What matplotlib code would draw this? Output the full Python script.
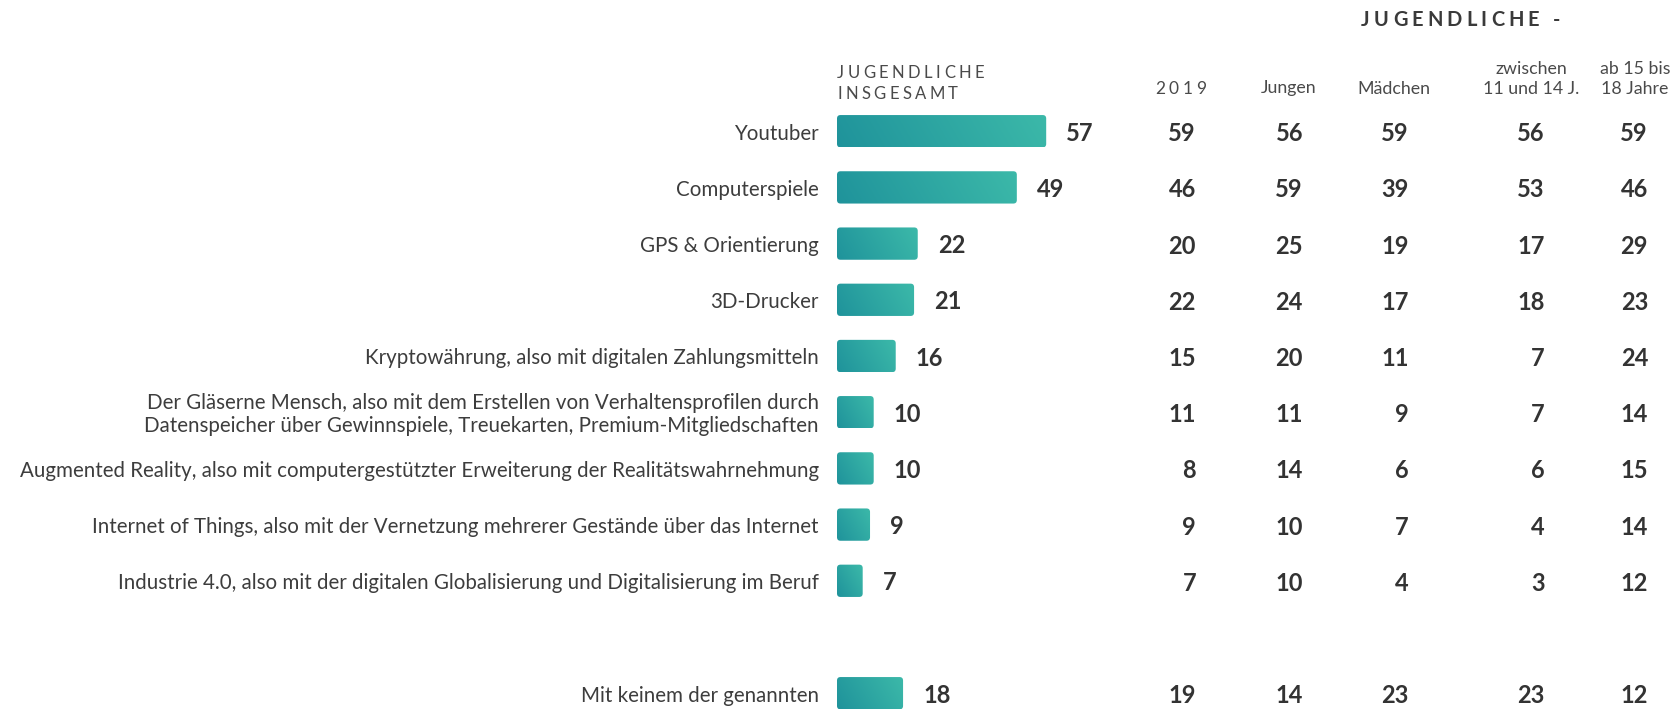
import numpy as np
import matplotlib
matplotlib.use("Agg")
import matplotlib.pyplot as plt
import matplotlib.colors as mcolors
import matplotlib.transforms as mtransforms
from matplotlib.patches import FancyBboxPatch
from matplotlib import font_manager
from matplotlib.ft2font import FT2Font

plt.rcParams['font.family'] = ['Lato', 'DejaVu Sans']

categories = [
    "Youtuber",
    "Computerspiele",
    "GPS & Orientierung",
    "3D-Drucker",
    "Kryptowährung, also mit digitalen Zahlungsmitteln",
    "Der Gläserne Mensch, also mit dem Erstellen von Verhaltensprofilen durch\n"
    "Datenspeicher über Gewinnspiele, Treuekarten, Premium-Mitgliedschaften",
    "Augmented Reality, also mit computergestützter Erweiterung der Realitätswahrnehmung",
    "Internet of Things, also mit der Vernetzung mehrerer Gestände über das Internet",
    "Industrie 4.0, also mit der digitalen Globalisierung und Digitalisierung im Beruf",
    "Mit keinem der genannten",
]
insgesamt = [57, 49, 22, 21, 16, 10, 10, 9, 7, 18]
jahr_2019 = [59, 46, 20, 22, 15, 11, 8, 9, 7, 19]
jungen = [56, 59, 25, 24, 20, 11, 14, 10, 10, 14]
maedchen = [59, 39, 19, 17, 11, 9, 6, 7, 4, 23]
alter_11_14 = [56, 53, 17, 18, 7, 7, 6, 4, 3, 23]
alter_15_18 = [59, 46, 29, 23, 24, 14, 15, 14, 12, 12]

col_values = [jahr_2019, jungen, maedchen, alter_11_14, alter_15_18]
col_right_px = [1196, 1303, 1408.5, 1544.5, 1648]

W, H, DPI = 1676, 709, 100
px_unit = 3.67      # pixel pro Prozentpunkt
x0_px = 837         # linke Kante der Balken
row0_px = 131.2     # Mitte der ersten Zeile
row_px = 56.2       # Zeilenabstand
bar_h_px = 32.3
bar_h = bar_h_px / row_px

txt_col = "#3d3d3d"
num_col = "#333333"
head_col = "#4a4a4a"
c0 = np.array(mcolors.to_rgb("#1f939b"))
c1 = np.array(mcolors.to_rgb("#3cb9a9"))
angle = np.deg2rad(60)  # wie css linear-gradient(60deg, ...)

fig = plt.figure(figsize=(W / DPI, H / DPI), dpi=DPI, facecolor="white")
ax = fig.add_axes([0, 0, 1, 1])
ax.axis("off")

n = len(categories)
ypos = np.arange(n) + (np.arange(n) == n - 1) * 1.0  # Leerzeile vor "Mit keinem"

pt = 72 / DPI  # pixel -> points

# balken mit farbverlauf
rad_x = 3.5 / px_unit
rad_y = 3.5 / row_px
for y, v in zip(ypos, insgesamt):
    w_px = v * px_unit
    gx = np.linspace(-w_px / 2, w_px / 2, max(int(w_px), 2))[None, :]
    gy = np.linspace(bar_h_px / 2, -bar_h_px / 2, 33)[:, None]
    L = w_px * np.sin(angle) + bar_h_px * np.cos(angle)
    t = 0.5 + (gx * np.sin(angle) + gy * np.cos(angle)) / L
    img = c0 + (c1 - c0) * t[..., None]
    patch = FancyBboxPatch((0, y - bar_h / 2), v, bar_h,
                           boxstyle=f"round,pad=0,rounding_size={rad_x}",
                           mutation_aspect=rad_y / rad_x,
                           facecolor="none", edgecolor="none")
    ax.add_patch(patch)
    im = ax.imshow(img, extent=(0, v, y + bar_h / 2, y - bar_h / 2), origin="upper",
                   aspect="auto", interpolation="bilinear", zorder=2)
    im.set_clip_path(patch)

ax.set_xlim(-x0_px / px_unit, (W - x0_px) / px_unit)
ax.set_ylim((H - row0_px) / row_px, -row0_px / row_px)

# kategorien
cat_fs = 14.8
cap = 0.7165
for y, lab in zip(ypos, categories):
    lines = lab.split("\n")
    k = len(lines)
    for j, line in enumerate(lines):
        dy = (j - (k - 1) / 2) * 23.5
        ax.annotate(line, xy=(0, y), xycoords="data",
                    xytext=(-18 * pt, -(dy + 1.5) * pt - 14 * cap / 2),
                    textcoords="offset points", ha="right", va="baseline",
                    fontsize=cat_fs, color=txt_col)

# werte an den balken
num_fs = 17
for y, v in zip(ypos, insgesamt):
    ax.annotate(str(v), xy=(v, y), xycoords="data",
                xytext=(20 * pt, -1.2 * pt - num_fs * cap / 2), textcoords="offset points",
                ha="left", va="baseline", fontsize=num_fs, fontweight="bold", color=num_col)

# spalten
blend = mtransforms.blended_transform_factory(fig.transFigure, ax.transData)
for vals, xr in zip(col_values, col_right_px):
    for y, v in zip(ypos, vals):
        ax.annotate(str(v), xy=(xr / W, y), xycoords=blend,
                    xytext=(0, -1.5 * pt - num_fs * cap / 2), textcoords="offset points",
                    ha="right", va="baseline", fontsize=num_fs, fontweight="bold", color=num_col)


def advances(s, size, weight):
    fp = font_manager.FontProperties(family="Lato", size=size, weight=weight)
    font = FT2Font(font_manager.findfont(fp))
    font.set_size(size, DPI)
    return [font.load_char(ord(c)).linearHoriAdvance / 65536 for c in s]


def spaced(x, y, s, size, weight="normal", spacing=None, width=None, ha="left", color=head_col):
    adv = advances(s, size, weight)
    if spacing is None:
        spacing = (width - sum(adv)) / (len(s) - 1)
    total = sum(adv) + spacing * (len(s) - 1)
    if ha == "center":
        x = x - total / 2
    for ch, a in zip(s, adv):
        fig.text(x / W, 1 - y / H, ch, fontsize=size, fontweight=weight,
                 color=color, ha="left", va="baseline")
        x += a + spacing
    return spacing


sp = spaced(837, 77.7, "JUGENDLICHE", 12, width=147)
spaced(837, 98.8, "INSGESAMT", 12, spacing=sp)
spaced(1180.5, 93.5, "2019", 12.5, spacing=sp, ha="center")
spaced(1361, 26, "JUGENDLICHE -", 14.4, weight="bold", width=199, color="#3a3a3a")


def head(x, y, s):
    fig.text(x / W, 1 - y / H, s, fontsize=12.8, color=head_col, ha="center", va="baseline")


head(1289, 93.5, "Jungen")
head(1394, 93.5, "Mädchen")
head(1531.5, 74, "zwischen")
head(1531.5, 94, "11 und 14 J.")
head(1635, 74, "ab 15 bis")
head(1635, 94, "18 Jahre")

fig.savefig("out.png", dpi=DPI, facecolor="white")
